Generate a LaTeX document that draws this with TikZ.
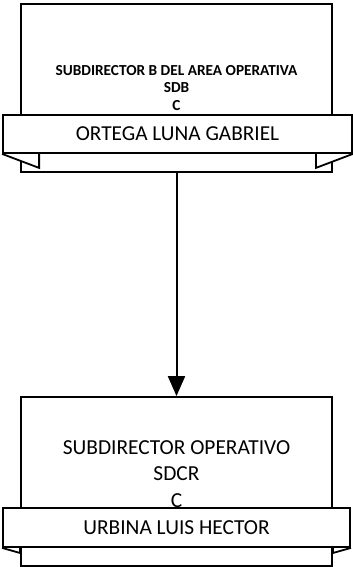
\documentclass[tikz,border=0pt]{standalone}
\usepackage{fontspec}
\setmainfont{Carlito}
\usetikzlibrary{arrows.meta}
\begin{document}
\begin{tikzpicture}[x=1pt,y=-1pt,
  box/.style={draw,line width=1.8pt,fill=white,minimum width=311pt,minimum height=168pt,inner sep=0pt},
  banner/.style={draw,line width=1.8pt,fill=white,minimum width=349pt,minimum height=38pt,inner sep=0pt},
  tail/.style={draw,line width=1.8pt,fill=white,line join=miter},
  conn/.style={line width=2pt,-{Triangle[length=20pt,width=17pt]}}]
\useasboundingbox (0,0) rectangle (353,567);
% top
\node[box] (b1) at (176.5,88) {};
\node[banner] (n1) at (177.5,134) {};
\draw[tail] (n1.south west) -- ++(37,14) -- ++(0,-14);
\draw[tail] (n1.south east) -- ++(-37,14) -- ++(0,-14);
\node[banner] (n1f) at (177.5,134) {};
\node[font=\bfseries\fontsize{15.3}{17.5}\selectfont,align=center,inner sep=0pt,anchor=center] (t1) at (176.5,88) {SUBDIRECTOR B DEL AREA OPERATIVA\\SDB\\C};
\node[font=\fontsize{21.3}{22}\selectfont,inner sep=0pt] (p1) at (n1f.center) {ORTEGA LUNA GABRIEL};
% bottom
\node[box,minimum height=169pt] (b2) at (176.5,481.5) {};
\node[banner,minimum width=347pt,minimum height=39pt] (n2) at (176.5,527.5) {};
\draw[tail] (n2.south west) -- (b2.west |- 0,553) -- (b2.west |- n2.south);
\draw[tail] (n2.south east) -- (b2.east |- 0,553) -- (b2.east |- n2.south);
\node[banner,minimum width=347pt,minimum height=39pt] (n2f) at (176.5,527.5) {};
\node[font=\fontsize{21.4}{26.5}\selectfont,align=center,inner sep=0pt] (t2) at (176.5,474) {SUBDIRECTOR OPERATIVO\\SDCR\\C};
\node[font=\fontsize{21.4}{22}\selectfont,inner sep=0pt] (p2) at (n2f.center) {URBINA LUIS HECTOR};
% connector
\draw[conn] (b1.south) -- (b2.north);
\end{tikzpicture}
\end{document}
